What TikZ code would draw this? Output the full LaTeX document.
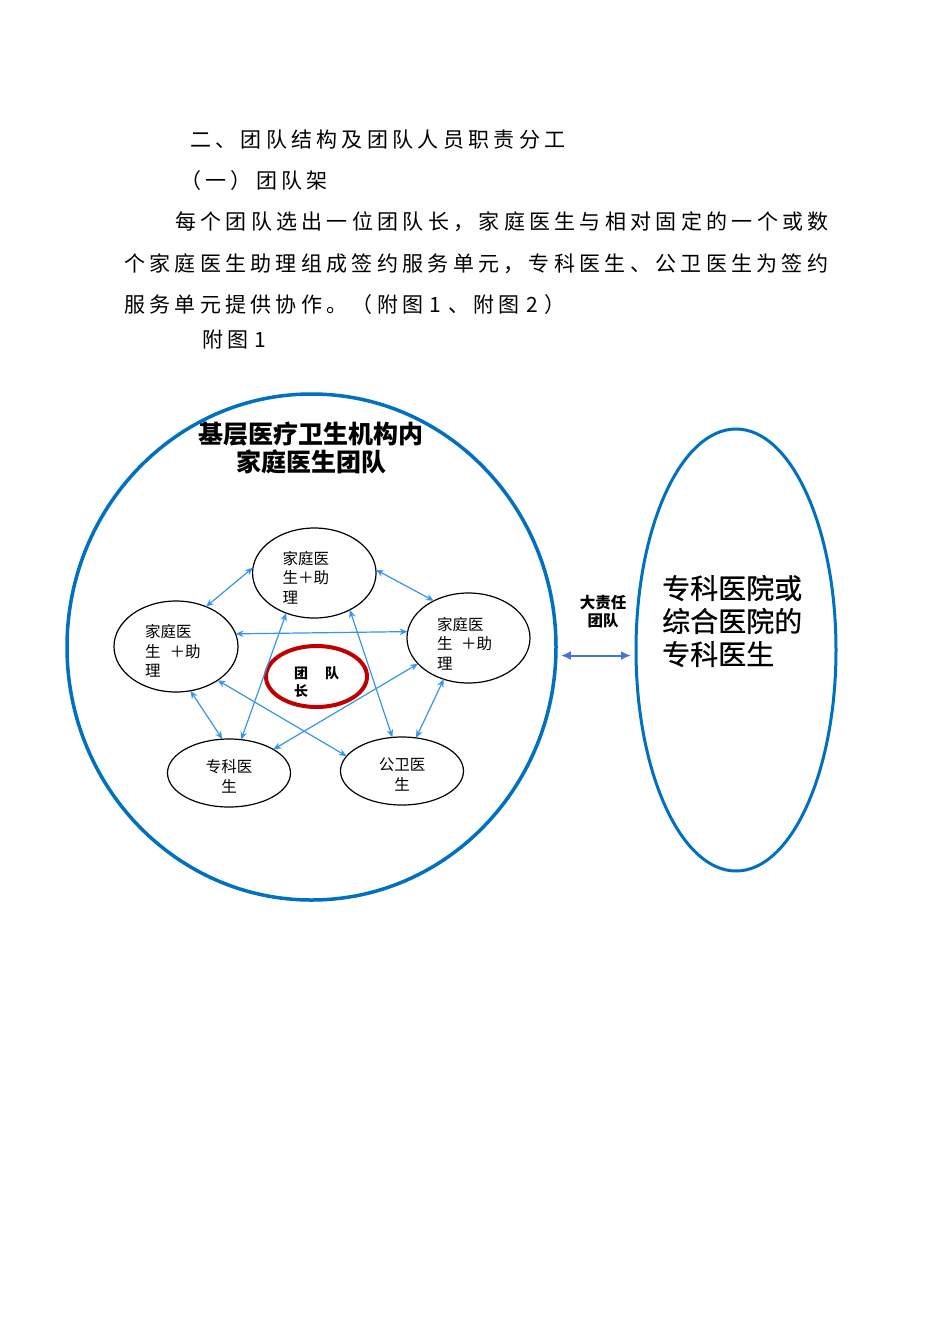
\documentclass[tikz,border=0pt]{standalone}
\usepackage{fontspec}
\setmainfont{Noto Sans CJK SC}
\newfontfamily\cjk{Noto Sans CJK SC}
\newfontfamily\heavycjk[FakeBold=0.6]{Noto Sans CJK SC}
\usetikzlibrary{shapes.geometric,arrows.meta}
\definecolor{circblue}{RGB}{0,112,192}
\definecolor{linkblue}{RGB}{55,150,235}
\definecolor{bigarrow}{RGB}{68,114,230}
\definecolor{teamred}{RGB}{192,0,0}
\def\spc#1{\ifx#1\relax\else#1\kern4.3pt\expandafter\spc\fi}
\def\dOne{\makebox[16pt]{1}}
\def\dTwo{\makebox[16pt]{2}}
\tikzset{
  bodyline/.style={anchor=west,inner sep=0pt,font=\fontsize{21pt}{21pt}\selectfont},
  member/.style={draw=black,line width=1.2pt,ellipse,inner sep=0pt,outer sep=0pt},
  membertext/.style={inner sep=0pt,align=left,font=\fontsize{15.5pt}{19.5pt}\selectfont},
  link/.style={draw=linkblue,line width=1.2pt,{Stealth[length=8pt,width=6.5pt]}-{Stealth[length=8pt,width=6.5pt]}},
}
\begin{document}
\begin{tikzpicture}[x=1pt,y=-1pt]
\useasboundingbox[fill=white] (0,0) rectangle (950,1344);
% body text
\node[bodyline] (l1) at (190,140) {\spc 二、团队结构及团队人员职责分工\relax};
\node[bodyline] (l2) at (180,181) {\spc （一）团队架\relax};
\node[bodyline] (l3) at (175,222) {\spc 每个团队选出一位团队长，家庭医生与相对固定的一个或数\relax};
\node[bodyline] (l4) at (124,264) {\spc 个家庭医生助理组成签约服务单元，专科医生、公卫医生为签约\relax};
\node[bodyline] (l5) at (124,305) {\spc 服务单元提供协作。（附图\dOne 、附图\dTwo ）\relax};
\node[bodyline] (l6) at (202,340) {\spc 附图\dOne\relax};
% big circle
\node[draw=circblue,line width=3.5pt,ellipse,minimum width=489pt,minimum height=506pt,inner sep=0pt,outer sep=0pt] (big) at (311.5,647) {};
\node[inner sep=0pt,align=center,font=\fontsize{25pt}{28pt}\selectfont\bfseries] (title) at (311,448) {基层医疗卫生机构内\\家庭医生团队};
% right ellipse
\node[draw=circblue,line width=3pt,ellipse,minimum width=200pt,minimum height=442pt,inner sep=0pt,outer sep=0pt] (spec) at (736,650) {};
\node[inner sep=0pt,anchor=west,align=left,font=\heavycjk\fontsize{28pt}{33pt}\selectfont] (spectext) at (662,621) {专科医院或\\综合医院的\\专科医生};
% big team label and arrow
\node[inner sep=0pt,align=center,font=\fontsize{15.5pt}{18pt}\selectfont\bfseries] (bigteam) at (603,612) {大责任\\团队};
\draw[draw=bigarrow,line width=2pt,{Latex[length=10pt,width=9pt]}-{Latex[length=10pt,width=9pt]},shorten <=5pt,shorten >=5pt] (big.-2) -- (big.-2 -| spec.west);
% member ellipses
\node[member,minimum width=123.5pt,minimum height=90pt] (top) at (314.3,573) {};
\node[member,minimum width=124pt,minimum height=91pt] (left) at (176,646.5) {};
\node[member,minimum width=123pt,minimum height=90pt] (right) at (468.5,638) {};
\node[member,minimum width=123pt,minimum height=68pt] (sl) at (229,773) {};
\node[member,minimum width=123pt,minimum height=68pt] (sr) at (402,771) {};
\node[draw=teamred,line width=4pt,ellipse,minimum width=101pt,minimum height=61pt,inner sep=0pt,outer sep=0pt] (lead) at (316.5,676.5) {};
% member texts
\node[membertext,anchor=west] (toptext) at (282.5,577.5) {家庭医\\生＋助\\理};
\node[membertext,anchor=west] (lefttext) at (145,651) {家庭医\\生\hspace{9pt}＋助\\理};
\node[membertext,anchor=west] (righttext) at (437,643.5) {家庭医\\生\hspace{8.5pt}＋助\\理};
\node[membertext,align=center] (sltext) at (229,776.5) {专科医\\生};
\node[membertext,align=center] (srtext) at (402,774.5) {公卫医\\生};
\node[inner sep=0pt,anchor=west,align=left,font=\fontsize{14pt}{18pt}\selectfont\bfseries] (leadtext) at (294,682) {团\hspace{17pt}队\\长};
% links
\draw[link] (left.53) -- (top.175);
\draw[link] (top.3.5) -- (right.133);
\draw[link] (left.12) -- (right.174.4);
\draw[link] (top.235) -- (sl.70);
\draw[link] (top.-46.8) -- (sr.106.4);
\draw[link] (left.-72.5) -- (sl.101.9);
\draw[link] (left.-39.3) -- (sr.165.2);
\draw[link] (right.207.2) -- (sl.28.5);
\draw[link] (right.239.3) -- (sr.67.6);
\end{tikzpicture}
\end{document}
